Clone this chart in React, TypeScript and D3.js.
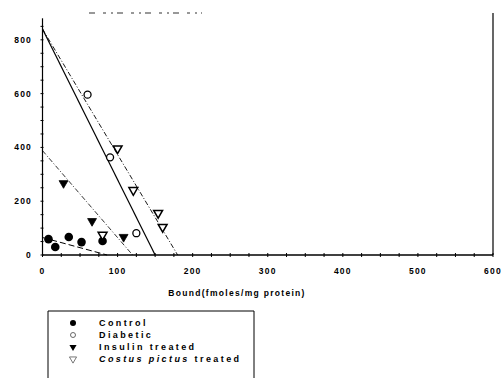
import React, { useEffect, useRef } from 'react';
import * as d3 from 'd3';

// Scatchard plot data
const xTicks = [0, 100, 200, 300, 400, 500, 600];
const yTicks = [0, 200, 400, 600, 800];

const controlPts = [[8, 59], [17, 30], [35, 67], [52, 48], [80, 52]];
const diabeticPts = [[60, 596], [90, 363], [125, 81]];
const insulinPts = [[28, 267], [66, 126], [108, 67]];
const costusPts = [[100, 396], [121, 241], [154, 156], [160, 104], [80, 75]];

// fitted lines: [x0,y0] -> [x1,y1]
const controlLine = [[0, 65], [86, 0]];
const diabeticLine = [[0, 840], [150, 0]];
const insulinLine = [[0, 388], [120, 0]];
const costusLine = [[0, 840], [180, 0]];

const legendLabels = ['Control', 'Diabetic', 'Insulin treated', 'Costus pictus treated'];

const App = () => {
  const ref = useRef(null);

  useEffect(() => {
    const width = 502;
    const height = 378;
    const svg = d3.select(ref.current);
    svg.selectAll('*').remove();
    svg.attr('width', width).attr('height', height);

    const x = d3.scaleLinear().domain([0, 600]).range([42.5, 493]);
    const y = d3.scaleLinear().domain([0, 880]).range([255, 18.3]);
    const font = 'Liberation Sans, Arial, sans-serif';

    // faint scan remnant of a title
    svg.append('line')
      .attr('x1', 89).attr('x2', 202).attr('y1', 13).attr('y2', 13)
      .attr('stroke', '#777').attr('stroke-width', 1.3)
      .attr('stroke-dasharray', '6 8 3 5 2 4');

    // axes
    svg.append('line')
      .attr('x1', x(0)).attr('x2', x(600)).attr('y1', y(0)).attr('y2', y(0))
      .attr('stroke', '#000').attr('stroke-width', 1.5);
    svg.append('line')
      .attr('x1', x(0)).attr('x2', x(0)).attr('y1', y(0)).attr('y2', y(880))
      .attr('stroke', '#000').attr('stroke-width', 1.2);
    svg.append('line')
      .attr('x1', x(600)).attr('x2', x(600)).attr('y1', y(0)).attr('y2', 13)
      .attr('stroke', '#000').attr('stroke-width', 1.2);

    // minor ticks
    svg.append('g').selectAll('line')
      .data(d3.range(0, 601, 25))
      .enter().append('line')
      .attr('x1', d => x(d)).attr('x2', d => x(d))
      .attr('y1', y(0) - 2).attr('y2', y(0) + 2)
      .attr('stroke', '#000').attr('stroke-width', 1);
    svg.append('g').selectAll('line')
      .data(d3.range(0, 851, 50))
      .enter().append('line')
      .attr('x1', x(0) - 2).attr('x2', x(0) + 1)
      .attr('y1', d => y(d)).attr('y2', d => y(d))
      .attr('stroke', '#000').attr('stroke-width', 1);

    svg.append('g').selectAll('text')
      .data(xTicks)
      .enter().append('text')
      .attr('x', d => x(d)).attr('y', 274)
      .attr('text-anchor', 'middle')
      .style('font-family', font).style('font-size', '8.5px').style('font-weight', 'bold')
      .style('letter-spacing', '1.2px')
      .text(d => d);

    svg.append('g').selectAll('text')
      .data(yTicks)
      .enter().append('text')
      .attr('x', 32).attr('y', d => y(d) + 3)
      .attr('text-anchor', 'end')
      .style('font-family', font).style('font-size', '8.5px').style('font-weight', 'bold')
      .style('letter-spacing', '1.2px')
      .text(d => d);

    svg.append('text')
      .attr('x', 237).attr('y', 296)
      .attr('text-anchor', 'middle')
      .style('font-family', font).style('font-size', '8.5px').style('font-weight', 'bold')
      .style('letter-spacing', '1.3px')
      .text('Bound(fmoles/mg protein)');

    // fitted lines
    const line = d3.line().x(d => x(d[0])).y(d => y(d[1]));
    const drawLine = (pts, dash, w) => svg.append('path')
      .attr('d', line(pts)).attr('fill', 'none')
      .attr('stroke', '#000').attr('stroke-width', w)
      .attr('stroke-dasharray', dash);
    drawLine(controlLine, '6 3', 1);
    drawLine(insulinLine, '5 2 1 2', 0.8);
    drawLine(costusLine, '5 2 1 2', 0.9);
    drawLine(diabeticLine, null, 1.2);

    const tri = d3.symbol().type(d3.symbolTriangle).size(34);
    const drawPts = (pts, kind) => {
      const g = svg.append('g');
      pts.forEach(p => {
        const px = x(p[0]);
        const py = y(p[1]);
        if (kind === 'control') {
          g.append('circle').attr('cx', px).attr('cy', py).attr('r', 4.3).attr('fill', '#000');
        } else if (kind === 'diabetic') {
          g.append('circle').attr('cx', px).attr('cy', py).attr('r', 3.5)
            .attr('fill', '#fff').attr('stroke', '#000').attr('stroke-width', 1.3);
        } else {
          g.append('path').attr('d', tri())
            .attr('transform', `translate(${px},${py}) rotate(180)`)
            .attr('fill', kind === 'insulin' ? '#000' : '#fff')
            .attr('stroke', '#000').attr('stroke-width', kind === 'insulin' ? 0.8 : 1.5);
        }
      });
    };
    drawPts(controlPts, 'control');
    drawPts(diabeticPts, 'diabetic');
    drawPts(insulinPts, 'insulin');
    drawPts(costusPts, 'costus');

    // legend
    svg.append('path')
      .attr('d', 'M48,380 L48,311 L254,311 L254,380')
      .attr('fill', 'none').attr('stroke', '#000').attr('stroke-width', 1);
    const kinds = ['control', 'diabetic', 'insulin', 'costus'];
    kinds.forEach((k, i) => {
      const ly = 323 + i * 12;
      if (k === 'control') {
        svg.append('circle').attr('cx', 73).attr('cy', ly).attr('r', 3).attr('fill', '#000');
      } else if (k === 'diabetic') {
        svg.append('circle').attr('cx', 73).attr('cy', ly).attr('r', 2.5)
          .attr('fill', 'none').attr('stroke', '#444').attr('stroke-width', 0.8);
      } else {
        svg.append('path').attr('d', d3.symbol().type(d3.symbolTriangle).size(22)())
          .attr('transform', `translate(73,${ly}) rotate(180)`)
          .attr('fill', k === 'insulin' ? '#000' : 'none')
          .attr('stroke', k === 'insulin' ? 'none' : '#555').attr('stroke-width', 0.8);
      }
      const t = svg.append('text')
        .attr('x', 99).attr('y', ly + 3)
        .style('font-family', font).style('font-size', '9px').style('font-weight', 'bold')
        .style('letter-spacing', '2.4px');
      if (k === 'costus') {
        t.append('tspan').style('font-style', 'italic').text('Costus pictus');
        t.append('tspan').text(' treated');
      } else {
        t.text(legendLabels[i]);
      }
    });
  });

  return (
    <div>
      <svg ref={ref} style={{ position: 'absolute', left: 0, top: 0, background: '#fff' }}></svg>
    </div>
  );
};

export default App;
